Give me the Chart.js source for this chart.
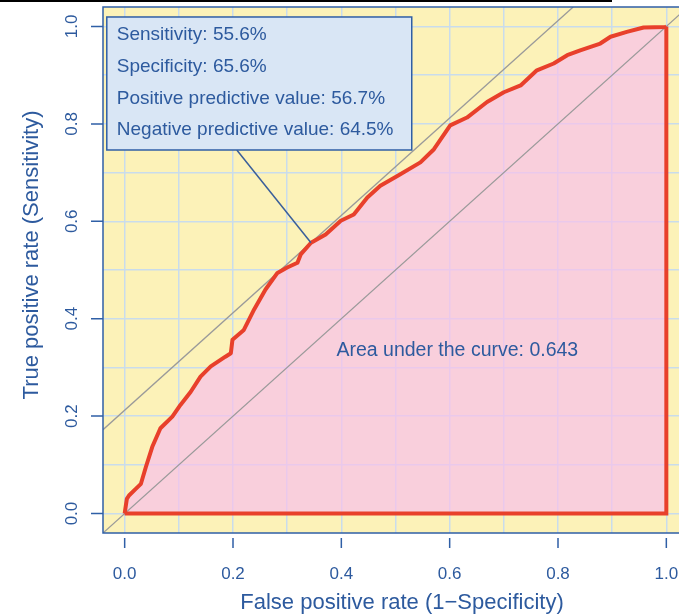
<!DOCTYPE html>
<html>
<head>
<meta charset="utf-8">
<title>ROC curve</title>
<script src="https://cdn.jsdelivr.net/npm/chart.js@4.4.1/dist/chart.umd.min.js"></script>
<style>
  html, body { margin: 0; padding: 0; background: #fff; overflow: hidden; }
  #wrap { position: relative; width: 679px; height: 614px; overflow: hidden; }
  #wrap canvas { position: absolute; left: 0; top: 0; }
  #topRule { position: absolute; left: 0; top: 0; width: 612px; height: 2px; background: #000; }
</style>
</head>
<body>
<div id="wrap">
  <canvas id="rocChart" width="700" height="614"></canvas>
  <div id="topRule"></div>
</div>
<script>
// ROC curve (false positive rate / true positive rate)
const fpr = [0, 0.004, 0.008, 0.02, 0.03, 0.039, 0.051, 0.066, 0.088, 0.103, 0.122, 0.14, 0.159, 0.186, 0.196,
  0.199, 0.22, 0.239, 0.26, 0.282, 0.3, 0.319, 0.325, 0.344, 0.371, 0.399, 0.423, 0.448, 0.472, 0.505,
  0.546, 0.571, 0.601, 0.632, 0.669, 0.7, 0.731, 0.761, 0.792, 0.817, 0.841, 0.878, 0.897, 0.927,
  0.958, 0.998, 1];
const tpr = [0, 0.03, 0.037, 0.05, 0.061, 0.095, 0.137, 0.175, 0.199, 0.223, 0.25, 0.281, 0.302, 0.322, 0.329,
  0.357, 0.377, 0.419, 0.46, 0.494, 0.505, 0.515, 0.532, 0.556, 0.573, 0.601, 0.614, 0.649, 0.673, 0.694,
  0.721, 0.748, 0.797, 0.813, 0.845, 0.865, 0.879, 0.91, 0.924, 0.941, 0.951, 0.965, 0.979, 0.989,
  0.998, 0.999, 1];

// closing edge of the area: right side and bottom
const edgeX = [1, 1, 0];
const edgeY = [1, 0, 0];

const axisMin = -0.04;
const axisMax = 1.04;
const axisTicks = [0, 0.2, 0.4, 0.6, 0.8, 1.0];
const tickLabels = ["0.0", "0.2", "0.4", "0.6", "0.8", "1.0"];

const sensitivity = 0.556;
const specificity = 0.656;
const statLabels = [
  "Sensitivity: 55.6%",
  "Specificity: 65.6%",
  "Positive predictive value: 56.7%",
  "Negative predictive value: 64.5%"
];
const aucLabel = "Area under the curve: 0.643";
const xTitle = "False positive rate (1\u2212Specificity)";
const yTitle = "True positive rate (Sensitivity)";

const BLUE = "#2d5a9e";
const FONT = "'Liberation Sans', Arial, sans-serif";

const rocPoints = fpr.map((v, i) => ({ x: v, y: tpr[i] }));
const edgePoints = edgeX.map((v, i) => ({ x: v, y: edgeY[i] }));
const chancePoints = [{ x: axisMin, y: axisMin }, { x: axisMax, y: axisMax }];
const youden = sensitivity - (1 - specificity);
const youdenPoints = [{ x: axisMin, y: axisMin + youden }, { x: axisMax - youden, y: axisMax }];
const cutPoint = { x: 1 - specificity, y: sensitivity };

/* ================= DECORATION ================= */

const rocDecor = {
  id: "rocDecor",
  beforeDraw(chart) {
    const { ctx, chartArea: a } = chart;
    ctx.save();
    ctx.fillStyle = "#fcf2b8";
    ctx.fillRect(a.left, a.top, a.right - a.left, a.bottom - a.top);
    ctx.restore();
  },
  afterDraw(chart) {
    const { ctx, chartArea: a } = chart;
    const x = chart.scales.x;
    const y = chart.scales.y;
    ctx.save();

    // frame
    ctx.strokeStyle = "#2f5fa6";
    ctx.lineWidth = 1.5;
    ctx.strokeRect(a.left, a.top, a.right - a.left, a.bottom - a.top);

    // tick marks
    ctx.beginPath();
    axisTicks.forEach(v => {
      const px = x.getPixelForValue(v);
      ctx.moveTo(px, a.bottom + 5);
      ctx.lineTo(px, a.bottom + 15);
      const py = y.getPixelForValue(v);
      ctx.moveTo(a.left - 12, py);
      ctx.lineTo(a.left, py);
    });
    ctx.stroke();

    // tick labels
    ctx.fillStyle = BLUE;
    ctx.textAlign = "center";
    ctx.textBaseline = "middle";
    ctx.font = "17px " + FONT;
    axisTicks.forEach((v, i) => {
      ctx.fillText(tickLabels[i], x.getPixelForValue(v), 574);
      ctx.save();
      ctx.translate(72, y.getPixelForValue(v));
      ctx.rotate(-Math.PI / 2);
      ctx.fillText(tickLabels[i], 0, 0);
      ctx.restore();
    });

    // axis titles
    ctx.font = "22px " + FONT;
    ctx.fillText(xTitle, 402, 603);
    ctx.save();
    ctx.translate(32, 255);
    ctx.rotate(-Math.PI / 2);
    ctx.fillText(yTitle, 0, 0);
    ctx.restore();

    // info box + pointer
    const bl = x.getPixelForValue(-0.033);
    const br = x.getPixelForValue(0.530);
    const bt = y.getPixelForValue(1.0195);
    const bb = y.getPixelForValue(0.7464);

    ctx.strokeStyle = "#3a5f9a";
    ctx.lineWidth = 1.5;
    ctx.beginPath();
    ctx.moveTo(x.getPixelForValue(0.207), bb);
    ctx.lineTo(x.getPixelForValue(cutPoint.x), y.getPixelForValue(cutPoint.y));
    ctx.stroke();

    ctx.fillStyle = "#d9e6f5";
    ctx.fillRect(bl, bt, br - bl, bb - bt);
    ctx.strokeStyle = "#2f5fa6";
    ctx.strokeRect(bl, bt, br - bl, bb - bt);

    ctx.fillStyle = BLUE;
    ctx.textAlign = "left";
    ctx.font = "19px " + FONT;
    statLabels.forEach((t, i) => {
      ctx.fillText(t, bl + 10, bt + 18 + i * 31.7);
    });

    // AUC
    ctx.font = "19.5px " + FONT;
    ctx.fillText(aucLabel, x.getPixelForValue(0.391), y.getPixelForValue(0.334));

    ctx.restore();
  }
};

/* ================= CHART ================= */

const gridOpts = { color: "#c9dcec", lineWidth: 1.5, drawTicks: false };

new Chart(document.getElementById("rocChart"), {
  type: "scatter",
  data: {
    datasets: [
      {
        label: "area",
        data: rocPoints,
        showLine: true,
        borderWidth: 0,
        backgroundColor: "rgba(248, 193, 235, 0.7)",
        fill: "origin",
        pointRadius: 0,
        order: 3
      },
      {
        label: "chance",
        data: chancePoints,
        showLine: true,
        borderColor: "#9a9a9a",
        borderWidth: 1.3,
        pointRadius: 0,
        order: 2
      },
      {
        label: "youden",
        data: youdenPoints,
        showLine: true,
        borderColor: "#9a9a9a",
        borderWidth: 1.3,
        pointRadius: 0,
        order: 2
      },
      {
        label: "ROC",
        data: rocPoints,
        showLine: true,
        borderColor: "#e8402b",
        borderWidth: 4,
        borderJoinStyle: "round",
        pointRadius: 0,
        order: 1
      },
      {
        label: "edge",
        data: edgePoints,
        showLine: true,
        borderColor: "#e8402b",
        borderWidth: 4,
        pointRadius: 0,
        order: 1
      }
    ]
  },
  options: {
    responsive: false,
    animation: false,
    layout: { padding: { top: 7, right: 12, bottom: 0, left: 0 } },
    plugins: {
      legend: { display: false },
      tooltip: { enabled: false }
    },
    scales: {
      x: {
        type: "linear",
        min: axisMin,
        max: axisMax,
        afterFit: s => { s.height = 81; },
        ticks: { display: false, stepSize: 0.1, includeBounds: false },
        grid: gridOpts,
        border: { display: false }
      },
      y: {
        type: "linear",
        min: axisMin,
        max: axisMax,
        afterFit: s => { s.width = 103; },
        ticks: { display: false, stepSize: 0.1, includeBounds: false },
        grid: gridOpts,
        border: { display: false }
      }
    }
  },
  plugins: [rocDecor]
});
</script>
</body>
</html>
